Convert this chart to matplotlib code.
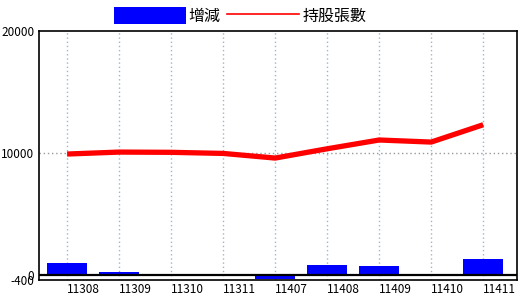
import matplotlib.pyplot as plt
import matplotlib.transforms as mtransforms
from matplotlib.patches import Patch
from matplotlib.lines import Line2D

plt.rcParams['font.family'] = ['Noto Sans CJK TC', 'DejaVu Sans']

months = ["11308", "11309", "11310", "11311", "11407", "11408", "11409", "11410", "11411"]
change = [1000, 220, 0, 0, -330, 800, 720, 0, 1300]
holders = [9920, 10080, 10060, 9970, 9590, 10350, 11070, 10900, 12320]

fig = plt.figure(figsize=(5.2, 3.0), dpi=100)
ax = fig.add_axes([38.5 / 520, 20 / 300, 478.5 / 520, 249 / 300])

x = range(len(months))
ax.bar(x, change, width=0.77, color="#0000ff", zorder=2)
ax.axhline(0, color="black", linewidth=1.6, zorder=3)
ax.plot(x, holders, color="#ff0000", linewidth=3.8, zorder=4, solid_capstyle="butt")

ax.set_xlim(-0.55, 8.65)
ax.set_ylim(-400, 20000)
ax.set_yticks([20000, 10000, 0, -400])
ax.set_yticklabels(["20000", "10000", "0", "-400"])
ax.set_xticks(list(x))
ax.set_xticklabels(months)
ax.tick_params(length=0, labelsize=8.5, pad=3)
ax.tick_params(axis="x", pad=2)

# x labels sit to the right of the gridlines
offset = mtransforms.ScaledTranslation(16 / 100, 0, fig.dpi_scale_trans)
for lbl in ax.get_xticklabels():
    lbl.set_transform(lbl.get_transform() + offset)

ax.xaxis.grid(True, linestyle=(0, (1, 2)), color="#a0b4c8", linewidth=1)
ax.set_axisbelow(True)
ax.axhline(10000, linestyle=(0, (1, 2)), color="#999999", linewidth=1, zorder=1)

for s in ax.spines.values():
    s.set_linewidth(1.2)

handles = [Patch(facecolor="#0000ff", edgecolor="none"),
           Line2D([0], [0], color="#ff0000", linewidth=1.2)]
fig.legend(handles, ["增減", "持股張數"], loc="center", bbox_to_anchor=(240 / 520, 1 - 16 / 300),
           ncol=2, frameon=False, fontsize=11.5, handlelength=4.5, handleheight=1.2,
           handletextpad=0.2, columnspacing=0.4)

fig.savefig("out.png", dpi=100)
